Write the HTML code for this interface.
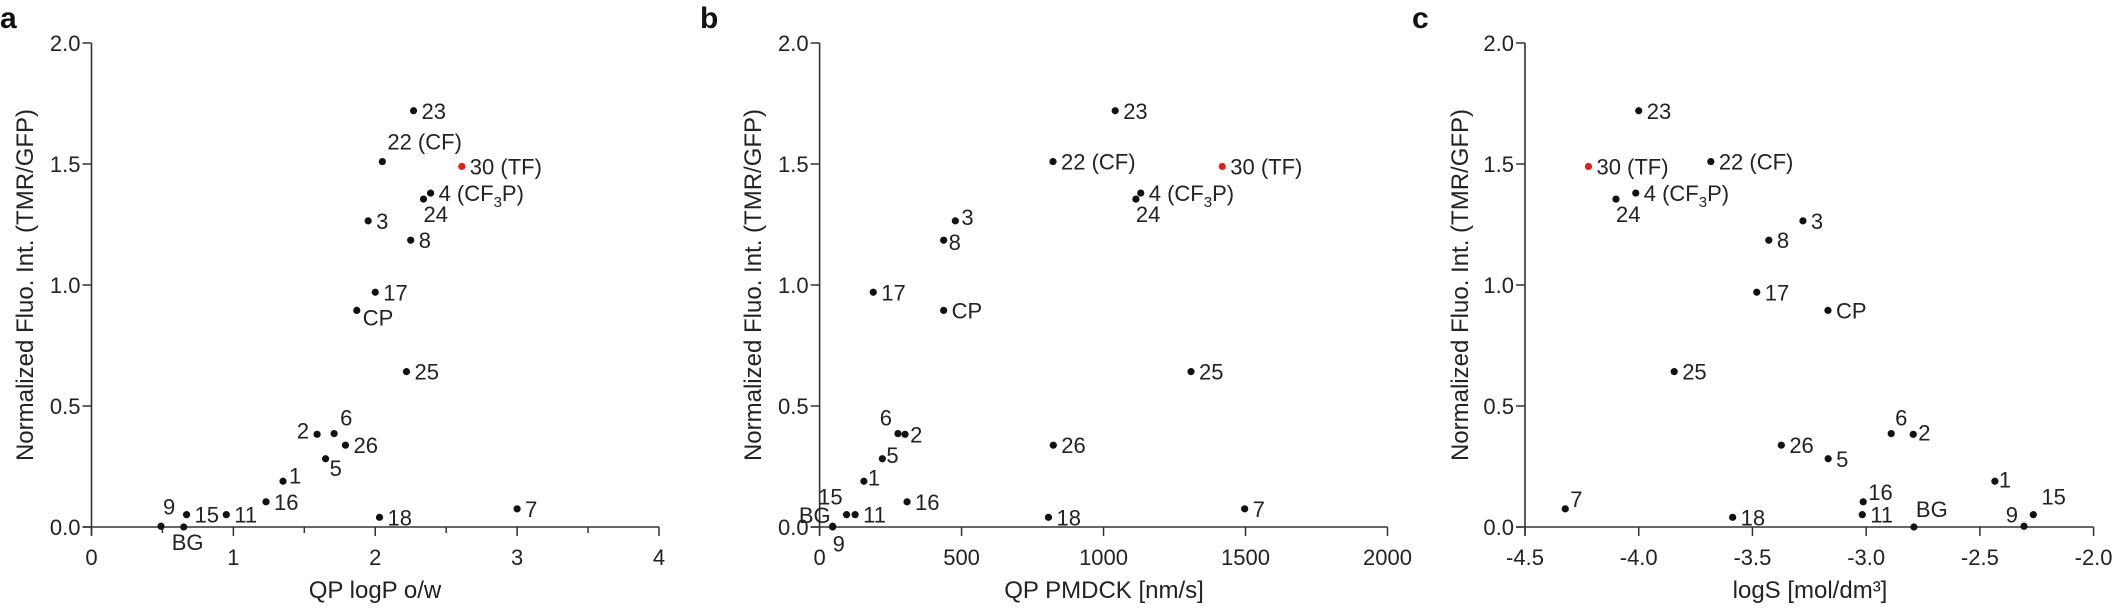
<!DOCTYPE html>
<html><head><meta charset="utf-8"><style>
html,body{margin:0;padding:0;background:#fff;}
svg{display:block;font-family:"Liberation Sans",Arial,sans-serif;}
</style></head><body>
<svg id="s" width="2115" height="611" viewBox="0 0 2115 611" xmlns="http://www.w3.org/2000/svg"></svg>
<script>
const S=document.getElementById('s');
let h='';
const Y0=527,Y2=43;
const yp=v=>Y0-(Y0-Y2)*v/2;
const pts=[
['23',1.72,2.27,1041,-4.0],
['22 (CF)',1.51,2.05,822,-3.683],
['30 (TF)',1.49,2.61,1418,-4.221],
['4',1.38,2.39,1131,-4.013],
['24',1.355,2.34,1114,-4.1],
['3',1.265,1.95,478,-3.278],
['8',1.185,2.25,437,-3.428],
['17',0.97,2.0,189,-3.481],
['CP',0.895,1.87,437,-3.168],
['25',0.642,2.22,1308,-3.844],
['6',0.386,1.71,276,-2.89],
['2',0.383,1.59,301,-2.793],
['26',0.338,1.79,823,-3.373],
['5',0.282,1.65,221,-3.167],
['1',0.189,1.35,156,-2.434],
['16',0.104,1.23,308,-3.013],
['15',0.051,0.67,95,-2.265],
['11',0.051,0.95,125,-3.017],
['9',0.003,0.49,46,-2.306],
['BG',0.0,0.65,46,-2.79],
['18',0.04,2.03,806,-3.587],
['7',0.075,3.0,1497,-4.323]
];
const panels=[
 {x0:91.5,x1:659,min:0,max:4,ticks:[0,1,2,3,4],minor:[0.5,1.5,2.5,3.5],lab:v=>String(v),idx:2,letter:'a',lx:0,title:'QP logP o/w',tx:375,ytx:25,
  off:{'22 (CF)':[5,-12],'24':[0,23],'6':[6,-8],'2':[-8,4,'end'],'5':[4,17],'9':[2,-12],'BG':[-12,23,'start'],'CP':[6,15],'1':[6,2]}},
 {x0:819.6,x1:1387.5,min:0,max:2000,ticks:[0,500,1000,1500,2000],minor:[],lab:v=>String(v),idx:3,letter:'b',lx:700,title:'QP PMDCK [nm/s]',tx:1104,ytx:753,
  off:{'24':[0,23],'6':[-6,-8,'end'],'2':[5,8],'15':[-4,-10,'end'],'9':[0,25,'start'],'BG':[-2,-4,'end'],'3':[6,4],'8':[5,10],'5':[4,4],'1':[4,4]}},
 {x0:1525,x1:2093.6,min:-4.5,max:-2.0,ticks:[-4.5,-4.0,-3.5,-3.0,-2.5,-2.0],minor:[],lab:v=>v.toFixed(1),idx:4,letter:'c',lx:1412,title:'logS [mol/dm³]',tx:1810,ytx:1460,
  off:{'24':[0,23],'6':[4,-8],'2':[5,6],'9':[-6,-4,'end'],'15':[8,-10],'BG':[2,-10],'16':[5,-2],'7':[5,-2],'1':[4,6]}}
];
panels.forEach(p=>{
 const xp=v=>p.x0+(p.x1-p.x0)*(v-p.min)/(p.max-p.min);
 h+=`<text x="${p.lx}" y="28" font-size="30" font-weight="bold" fill="#111">${p.letter}</text>`;
 h+=`<line x1="${p.x0}" y1="${Y2}" x2="${p.x0}" y2="${Y0+8}" stroke="#333" stroke-width="1.6"/>`;
 h+=`<line x1="${p.x0-9}" y1="${Y0}" x2="${p.x1}" y2="${Y0}" stroke="#333" stroke-width="1.6"/>`;
 [0,0.5,1,1.5,2].forEach(v=>{const y=yp(v);
  h+=`<line x1="${p.x0-9}" y1="${y}" x2="${p.x0}" y2="${y}" stroke="#333" stroke-width="1.5"/>`;
  h+=`<text x="${p.x0-11}" y="${y+8}" font-size="22" text-anchor="end" fill="#222">${v.toFixed(1)}</text>`;});
 p.ticks.forEach(v=>{const x=xp(v);
  h+=`<line x1="${x}" y1="${Y0}" x2="${x}" y2="${Y0+9}" stroke="#333" stroke-width="1.5"/>`;
  h+=`<text x="${x}" y="${Y0+38}" font-size="22" text-anchor="middle" fill="#222">${p.lab(v)}</text>`;});
 p.minor.forEach(v=>{const x=xp(v);
  h+=`<line x1="${x}" y1="${Y0}" x2="${x}" y2="${Y0+6}" stroke="#333" stroke-width="1.5"/>`;});
 h+=`<text x="${p.tx}" y="598" font-size="24" text-anchor="middle" fill="#222">${p.title}</text>`;
 h+=`<text transform="translate(${p.ytx+8},${yp(1)}) rotate(-90)" font-size="24" text-anchor="middle" fill="#222">Normalized Fluo. Int. (TMR/GFP)</text>`;
 pts.forEach(d=>{
  const x=xp(d[p.idx]),y=yp(d[1]);
  const red=d[0]==='30 (TF)';
  h+=`<circle cx="${x}" cy="${y}" r="3.6" fill="${red?'#e0201e':'#111'}"/>`;
  const o=p.off[d[0]]||[8,8];
  const dx=o[0], dy=o[1], anc=o[2]||'start';
  let t=d[0];
  if(t==='4') t='4 (CF<tspan font-size="15" dy="6">3</tspan><tspan dy="-6">P)</tspan>';
  h+=`<text x="${x+dx}" y="${y+dy}" font-size="22" text-anchor="${anc}" fill="#222">${t}</text>`;
 });
});
S.innerHTML=h;
</script>
</body></html>
